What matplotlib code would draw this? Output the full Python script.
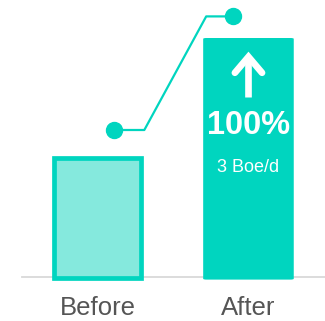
import matplotlib.pyplot as plt
from matplotlib.patches import FancyBboxPatch

plt.rcParams['font.family'] = ['Liberation Sans', 'DejaVu Sans']

# production, Boe/d
categories = ["Before", "After"]
production = [1.5, 3.0]
trend = [1.85, 3.27]
change_label = "100%"
value_label = "3 Boe/d"

teal = "#00D5BF"
light_teal = "#85E9DD"

fig = plt.figure(figsize=(3.25, 3.21), dpi=100)
ax = fig.add_axes([0, 0, 1, 1])
ax.set_xlim(-0.646, 1.507)
ax.set_ylim(-0.5375, 3.475)
ax.axis("off")

width = 0.6
xs = list(range(len(categories)))

# baseline
ax.plot([-0.5, 1.507], [0.01, 0.01], color="#d9d9d9", lw=1.3, zorder=1)

# before bar: light fill with teal border
b_lw = 3.4
ax.bar(xs[0], production[0], width=width - 0.03, bottom=0.0,
       color=light_teal, edgecolor=teal, linewidth=b_lw, zorder=2)

# after bar, slightly rounded corners
after = FancyBboxPatch((xs[1] - width / 2, -0.02), width, production[1] + 0.02,
                       boxstyle="round,pad=0,rounding_size=0.02",
                       mutation_aspect=0.53, facecolor=teal, edgecolor="none", zorder=2)
ax.add_patch(after)

# trend line with end dots
lx = [xs[0] + 0.11, xs[0] + width / 2 + 0.01, xs[1] - width / 2 + 0.02, xs[1] - 0.1]
ly = [trend[0], trend[0], trend[1], trend[1]]
ax.plot(lx, ly, color=teal, lw=1.6, zorder=3)
ax.plot([lx[0], lx[-1]], [ly[0], ly[-1]], "o", color=teal, ms=11.5, zorder=4)

# up arrow inside the after bar
cx = xs[1]
ax.plot([cx, cx], [2.26, 2.78], color="white", lw=4.8, solid_capstyle="butt", zorder=5)
ax.plot([cx - 0.09, cx, cx + 0.09], [2.565, 2.765, 2.565], color="white", lw=4.8,
        solid_capstyle="round", solid_joinstyle="miter", zorder=5)

ax.text(cx, 1.91, change_label, ha="center", va="center", color="white",
        fontsize=23.5, fontweight="bold", zorder=5)
ax.text(cx, 1.38, value_label, ha="center", va="center", color="white",
        fontsize=13, zorder=5)

for x, name in zip(xs, categories):
    ax.text(x, -0.465, name, ha="center", va="baseline", color="#555555", fontsize=18.5)

fig.savefig("out.png", dpi=100)
